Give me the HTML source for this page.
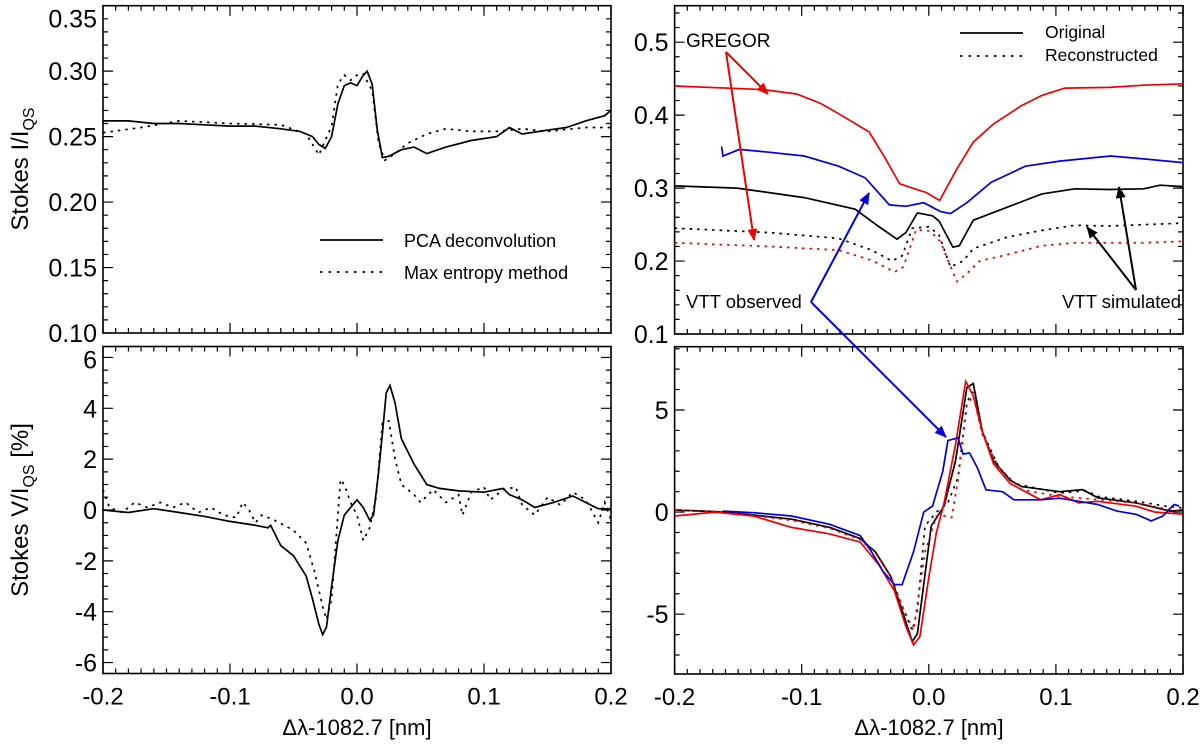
<!DOCTYPE html>
<html><head><meta charset="utf-8"><style>
body{margin:0;background:#fff}
svg{display:block;font-family:"Liberation Sans",sans-serif}
</style></head><body>
<svg id="c" width="1200" height="749" viewBox="0 0 1200 749" xmlns="http://www.w3.org/2000/svg">
</svg>
<script>
// ---- data ----
const tlPcaX=[-0.2,-0.18,-0.16,-0.14,-0.12,-0.1,-0.08,-0.06,-0.045,-0.035,-0.03,-0.025,-0.02,-0.015,-0.01,-0.005,0,0.005,0.008,0.012,0.016,0.02,0.025,0.035,0.045,0.055,0.07,0.09,0.11,0.12,0.13,0.15,0.165,0.18,0.195,0.2];
const tlPcaY=[0.262,0.262,0.260,0.260,0.259,0.258,0.258,0.256,0.254,0.250,0.244,0.241,0.250,0.275,0.289,0.291,0.289,0.297,0.300,0.290,0.255,0.234,0.235,0.240,0.242,0.237,0.242,0.247,0.250,0.257,0.252,0.255,0.257,0.262,0.266,0.270];
const tlMemX=[-0.2,-0.17,-0.14,-0.1,-0.06,-0.04,-0.03,-0.02,-0.015,-0.01,-0.005,0,0.005,0.012,0.017,0.022,0.03,0.04,0.055,0.07,0.09,0.11,0.13,0.15,0.18,0.2];
const tlMemY=[0.253,0.257,0.262,0.260,0.259,0.252,0.236,0.258,0.290,0.297,0.293,0.297,0.298,0.285,0.245,0.232,0.237,0.245,0.252,0.256,0.254,0.254,0.256,0.254,0.257,0.257];
const blPcaX=[-0.2,-0.18,-0.16,-0.14,-0.12,-0.1,-0.08,-0.07,-0.068,-0.06,-0.05,-0.04,-0.035,-0.03,-0.027,-0.024,-0.02,-0.015,-0.01,-0.005,0,0.005,0.01,0.013,0.017,0.02,0.023,0.026,0.03,0.035,0.045,0.055,0.065,0.08,0.1,0.115,0.12,0.13,0.14,0.155,0.17,0.18,0.19,0.2];
const blPcaY=[0,-0.1,0.05,-0.1,-0.25,-0.45,-0.6,-0.7,-0.6,-1.4,-1.8,-2.6,-3.5,-4.5,-4.9,-4.6,-3.0,-1.2,-0.2,0.1,0.4,0.1,-0.4,-0.2,1.5,3.0,4.6,4.9,4.2,2.8,1.8,1.0,0.85,0.75,0.7,0.85,0.6,0.4,0.1,0.3,0.55,0.3,0.05,0.05];
const blMemX=[-0.2,-0.195,-0.185,-0.175,-0.165,-0.155,-0.145,-0.135,-0.125,-0.115,-0.105,-0.095,-0.09,-0.085,-0.08,-0.075,-0.065,-0.05,-0.04,-0.033,-0.027,-0.024,-0.02,-0.017,-0.013,-0.01,-0.005,0,0.005,0.01,0.015,0.02,0.025,0.03,0.035,0.045,0.05,0.06,0.07,0.08,0.083,0.09,0.1,0.105,0.115,0.125,0.13,0.14,0.15,0.16,0.17,0.18,0.19,0.195,0.2];
const blMemY=[0.8,0.1,-0.1,0.3,0.1,0.3,0.1,0.3,-0.1,0.1,-0.2,-0.3,0.3,0,-0.5,-0.2,-0.4,-0.8,-1.3,-2.5,-3.8,-4.3,-3.5,-1.5,1.2,1.0,0.3,-0.2,-1.2,-0.7,0.5,3.4,3.5,2.0,1.0,0.6,0.3,0.8,0.3,0.6,-0.2,0.7,0.9,0.4,0.8,0.9,0.2,-0.2,0.5,0.2,0.7,0.4,-0.5,0.3,-0.4];
const trGregX=[-0.2,-0.13,-0.104,-0.085,-0.071,-0.047,-0.034,-0.023,-0.013,-0.002,0.0085,0.022,0.035,0.051,0.073,0.089,0.107,0.142,0.169,0.2];
const trGregY=[0.44,0.435,0.429,0.416,0.402,0.377,0.340,0.306,0.300,0.294,0.283,0.326,0.363,0.388,0.413,0.427,0.437,0.438,0.441,0.443];
const trObsX=[-0.163,-0.162,-0.149,-0.125,-0.098,-0.071,-0.050,-0.031,-0.018,-0.004,0.009,0.017,0.030,0.049,0.076,0.103,0.143,0.169,0.2];
const trObsY=[0.357,0.344,0.353,0.349,0.344,0.330,0.314,0.277,0.275,0.280,0.268,0.265,0.280,0.308,0.330,0.337,0.344,0.340,0.335];
const trSimX=[-0.2,-0.151,-0.098,-0.058,-0.040,-0.025,-0.018,-0.009,0.003,0.008,0.019,0.024,0.035,0.062,0.089,0.115,0.142,0.169,0.182,0.2];
const trSimY=[0.303,0.300,0.287,0.271,0.248,0.230,0.239,0.266,0.262,0.255,0.219,0.221,0.256,0.274,0.292,0.299,0.298,0.299,0.304,0.302];
const trSimRecX=[-0.2,-0.125,-0.071,-0.045,-0.029,-0.021,-0.013,0.0,0.008,0.017,0.027,0.035,0.062,0.089,0.115,0.142,0.2];
const trSimRecY=[0.245,0.239,0.231,0.215,0.200,0.207,0.245,0.247,0.236,0.192,0.200,0.217,0.233,0.242,0.249,0.248,0.252];
const trGregRecX=[-0.2,-0.125,-0.071,-0.045,-0.027,-0.020,-0.010,0.001,0.009,0.022,0.030,0.040,0.062,0.089,0.115,0.169,0.2];
const trGregRecY=[0.225,0.220,0.215,0.201,0.185,0.192,0.243,0.241,0.227,0.172,0.183,0.200,0.209,0.221,0.225,0.225,0.227];
const brSimX=[-0.2,-0.159,-0.108,-0.078,-0.054,-0.042,-0.030,-0.021,-0.013,-0.009,-0.004,0.002,0.012,0.021,0.030,0.035,0.042,0.051,0.064,0.073,0.103,0.121,0.133,0.163,0.19,0.2];
const brSimY=[0.1,0,-0.35,-0.75,-1.3,-1.95,-3.15,-4.8,-6.35,-5.95,-3.55,-0.67,0.3,2.5,6.1,6.3,3.96,2.5,1.56,1.25,1.0,1.1,0.7,0.45,0.05,0.1];
const brSimRecX=[-0.2,-0.159,-0.108,-0.078,-0.054,-0.042,-0.030,-0.021,-0.013,-0.009,-0.003,0.006,0.015,0.023,0.030,0.036,0.042,0.055,0.067,0.103,0.124,0.133,0.163,0.187,0.2];
const brSimRecY=[0.1,0,-0.35,-0.75,-1.3,-1.95,-3.15,-4.6,-5.8,-4.8,-0.67,0,0.45,1.7,5.4,6.0,3.96,2.2,1.4,0.93,1.05,0.77,0.53,0.29,0.2];
const brGregX=[-0.2,-0.168,-0.138,-0.108,-0.078,-0.054,-0.039,-0.027,-0.018,-0.012,-0.007,0.0,0.006,0.012,0.021,0.029,0.035,0.042,0.051,0.064,0.088,0.103,0.118,0.133,0.163,0.178,0.2];
const brGregY=[-0.19,0,-0.19,-0.75,-1.07,-1.47,-2.6,-3.87,-5.6,-6.5,-6.1,-3.2,-1.0,0.45,3.3,6.4,5.7,3.96,2.36,1.4,0.6,0.85,0.45,0.53,0.29,0,-0.1];
const brGregRecX=[-0.2,-0.159,-0.108,-0.078,-0.054,-0.042,-0.030,-0.021,-0.012,-0.003,0.006,0.013,0.018,0.023,0.030,0.035,0.042,0.055,0.073,0.103,0.163,0.2];
const brGregRecY=[0.1,0,-0.4,-0.8,-1.35,-2.0,-3.15,-4.6,-5.8,-1.95,-0.19,-0.19,-0.27,1.56,5.24,5.7,3.8,2.2,1.09,0.77,0.45,0];
const brObsX=[-0.162,-0.138,-0.108,-0.078,-0.054,-0.045,-0.036,-0.027,-0.021,-0.012,-0.004,0.003,0.011,0.015,0.023,0.027,0.032,0.038,0.045,0.058,0.067,0.088,0.103,0.118,0.133,0.148,0.163,0.175,0.184,0.193,0.197];
const brObsY=[0.05,-0.03,-0.19,-0.6,-1.15,-1.95,-2.9,-3.55,-3.55,-1.95,0,0.3,2.0,3.5,3.64,2.84,2.9,2.2,1.09,1.0,0.6,0.6,0.68,0.53,0.37,0.05,-0.11,-0.43,-0.2,0.37,0.3];
const xTickLabels=["-0.2","-0.1","0.0","0.1","0.2"];
const tlTickLabels=["0.10","0.15","0.20","0.25","0.30","0.35"];
const blTickLabels=["-6","-4","-2","0","2","4","6"];
const trTickLabels=["0.1","0.2","0.3","0.4","0.5"];
const brTickLabels=["-5","0","5"];

const svg=document.getElementById('c');
const NS="http://www.w3.org/2000/svg";
function mk(tag,attrs,parent){const e=document.createElementNS(NS,tag);for(const k in attrs)e.setAttribute(k,attrs[k]);(parent||svg).appendChild(e);return e;}
function panel(name,L,R,T,B,y0,y1,majY,minY,yLabels,xLabelsShown){
  const g=mk('g',{});
  
  
  const sx=v=>L+(v+0.2)/0.4*(R-L);
  const sy=v=>B-(v-y0)/(y1-y0)*(B-T);
  const fr=mk('rect',{x:L,y:T,width:R-L,height:B-T,fill:'none',stroke:'#000','stroke-width':1.6},g);
  
  
  let d='';
  for(let i=0;i<=40;i++){const v=-0.2+i*0.01;const x=sx(v);const len=(i%10==0)?10:5;d+=`M${x},${B}v${-len}M${x},${T}v${len}`;}
  let ys=Math.ceil(y0/minY-1e-6)*minY;
  for(let v=ys;v<=y1+1e-9;v+=minY){const y=sy(v);const mj=Math.abs(v/majY-Math.round(v/majY))<1e-6;const len=mj?10:5;d+=`M${L},${y}h${len}M${R},${y}h${-len}`;}
  mk('path',{d:d,stroke:'#000','stroke-width':1.2,fill:'none'},g);
  const yl=mk('g',{},g);
  
  
  yLabels.forEach(t=>{const tx=mk('text',{x:L-6,y:Math.max(sy(parseFloat(t))+9,T+22),'text-anchor':'end','font-size':25},yl);tx.textContent=t;});
  if(xLabelsShown){const xl=mk('g',{},g);
    
    
    xTickLabels.forEach(t=>{const tx=mk('text',{x:sx(parseFloat(t)),y:B+31,'text-anchor':'middle','font-size':24},xl);tx.textContent=t;});}
  const cp='cp'+name;const c=mk('clipPath',{id:cp},g);mk('rect',{x:L,y:T,width:R-L,height:B-T},c);
  return {g,sx,sy,cp};
}
function line(p,name,xs,ys,color,dotted){
  const d=xs.map((x,i)=>(i?'L':'M')+p.sx(x).toFixed(1)+','+p.sy(ys[i]).toFixed(1)).join('');
  const e=mk('path',{d:d,fill:'none',stroke:color,'stroke-width':1.7,'clip-path':`url(#${p.cp})`,'stroke-dasharray':dotted?'2.5,5':'none'},p.g);
  
  
}
const tl=panel('top-left-panel',103,611,5.7,333,0.10,0.35,0.05,0.01,tlTickLabels,false);
line(tl,'pca-deconvolution-line',tlPcaX,tlPcaY,'#000',false);
line(tl,'max-entropy-line',tlMemX,tlMemY,'#000',true);
const bl=panel('bottom-left-panel',103,611,346.5,673.5,-6.43,6.43,2,0.5,blTickLabels,true);
line(bl,'pca-deconvolution-v-line',blPcaX,blPcaY,'#000',false);
line(bl,'max-entropy-v-line',blMemX,blMemY,'#000',true);
const tr=panel('top-right-panel',674.6,1183,5.7,334,0.1,0.55,0.1,0.02,trTickLabels,false);
line(tr,'gregor-original-line',trGregX,trGregY,'#e00',false);
line(tr,'vtt-observed-line',trObsX,trObsY,'#00d',false);
line(tr,'vtt-simulated-original-line',trSimX,trSimY,'#000',false);
line(tr,'vtt-simulated-reconstructed-line',trSimRecX,trSimRecY,'#000',true);
line(tr,'gregor-reconstructed-line',trGregRecX,trGregRecY,'#e00',true);
const br=panel('bottom-right-panel',674.6,1183,346.7,674,-7.93,8.1,5,1,brTickLabels,true);
line(br,'vtt-simulated-v-line',brSimX,brSimY,'#000',false);
line(br,'vtt-simulated-v-reconstructed-line',brSimRecX,brSimRecY,'#000',true);
line(br,'gregor-v-line',brGregX,brGregY,'#e00',false);
line(br,'gregor-v-reconstructed-line',brGregRecX,brGregRecY,'#e00',true);
line(br,'vtt-observed-v-line',brObsX,brObsY,'#00d',false);
</script>
<svg style="position:absolute;left:0;top:0" width="1200" height="749" xmlns="http://www.w3.org/2000/svg" font-family="Liberation Sans, sans-serif">
<defs>
<marker id="ar2" markerWidth="12" markerHeight="10" refX="11" refY="5" orient="auto" markerUnits="userSpaceOnUse"><path d="M0,0 L12,5 L0,10 z" fill="#e00"/></marker>
<marker id="ab2" markerWidth="12" markerHeight="10" refX="11" refY="5" orient="auto" markerUnits="userSpaceOnUse"><path d="M0,0 L12,5 L0,10 z" fill="#00d"/></marker>
<marker id="ak2" markerWidth="12" markerHeight="10" refX="11" refY="5" orient="auto" markerUnits="userSpaceOnUse"><path d="M0,0 L12,5 L0,10 z" fill="#000"/></marker>
</defs>
<text x="28" y="169" transform="rotate(-90 28 169)" text-anchor="middle" font-size="24">Stokes I/I<tspan font-size="16" dy="6">QS</tspan></text>
<text x="28" y="510" transform="rotate(-90 28 510)" text-anchor="middle" font-size="24">Stokes V/I<tspan font-size="16" dy="6">QS</tspan><tspan dy="-6"> [%]</tspan></text>
<text x="357" y="735" text-anchor="middle" font-size="22">Δλ-1082.7 [nm]</text>
<text x="929" y="735" text-anchor="middle" font-size="22">Δλ-1082.7 [nm]</text>
<g>
<line x1="320" y1="240" x2="383" y2="240" stroke="#000" stroke-width="1.8"/>
<text x="404" y="247" font-size="18">PCA deconvolution</text>
<line x1="320" y1="272" x2="383" y2="272" stroke="#000" stroke-width="1.8" stroke-dasharray="2.5,6"/>
<text x="404" y="279" font-size="18">Max entropy method</text>
</g>
<g>
<line x1="960" y1="33" x2="1023" y2="33" stroke="#000" stroke-width="1.8"/>
<text x="1045" y="38" font-size="17.5">Original</text>
<line x1="960" y1="56" x2="1023" y2="56" stroke="#000" stroke-width="1.8" stroke-dasharray="2.5,6"/>
<text x="1045" y="61" font-size="17.5">Reconstructed</text>
</g>
<g>
<text x="686" y="47" font-size="19">GREGOR</text>
<line x1="726" y1="52" x2="768" y2="94" stroke="#e00" stroke-width="2" marker-end="url(#ar2)"/>
<line x1="726" y1="52" x2="754" y2="240" stroke="#e00" stroke-width="2" marker-end="url(#ar2)"/>
</g>
<g>
<text x="686" y="308" font-size="18.5">VTT observed</text>
<line x1="811" y1="302" x2="869" y2="193" stroke="#00d" stroke-width="2" marker-end="url(#ab2)"/>
<line x1="811" y1="302" x2="946" y2="437" stroke="#00d" stroke-width="2" marker-end="url(#ab2)"/>
</g>
<g>
<text x="1181" y="308" font-size="18.5" text-anchor="end">VTT simulated</text>
<line x1="1136" y1="290" x2="1119" y2="187" stroke="#000" stroke-width="2" marker-end="url(#ak2)"/>
<line x1="1136" y1="290" x2="1087" y2="227" stroke="#000" stroke-width="2" marker-end="url(#ak2)"/>
</g>
</svg>
</body></html>
